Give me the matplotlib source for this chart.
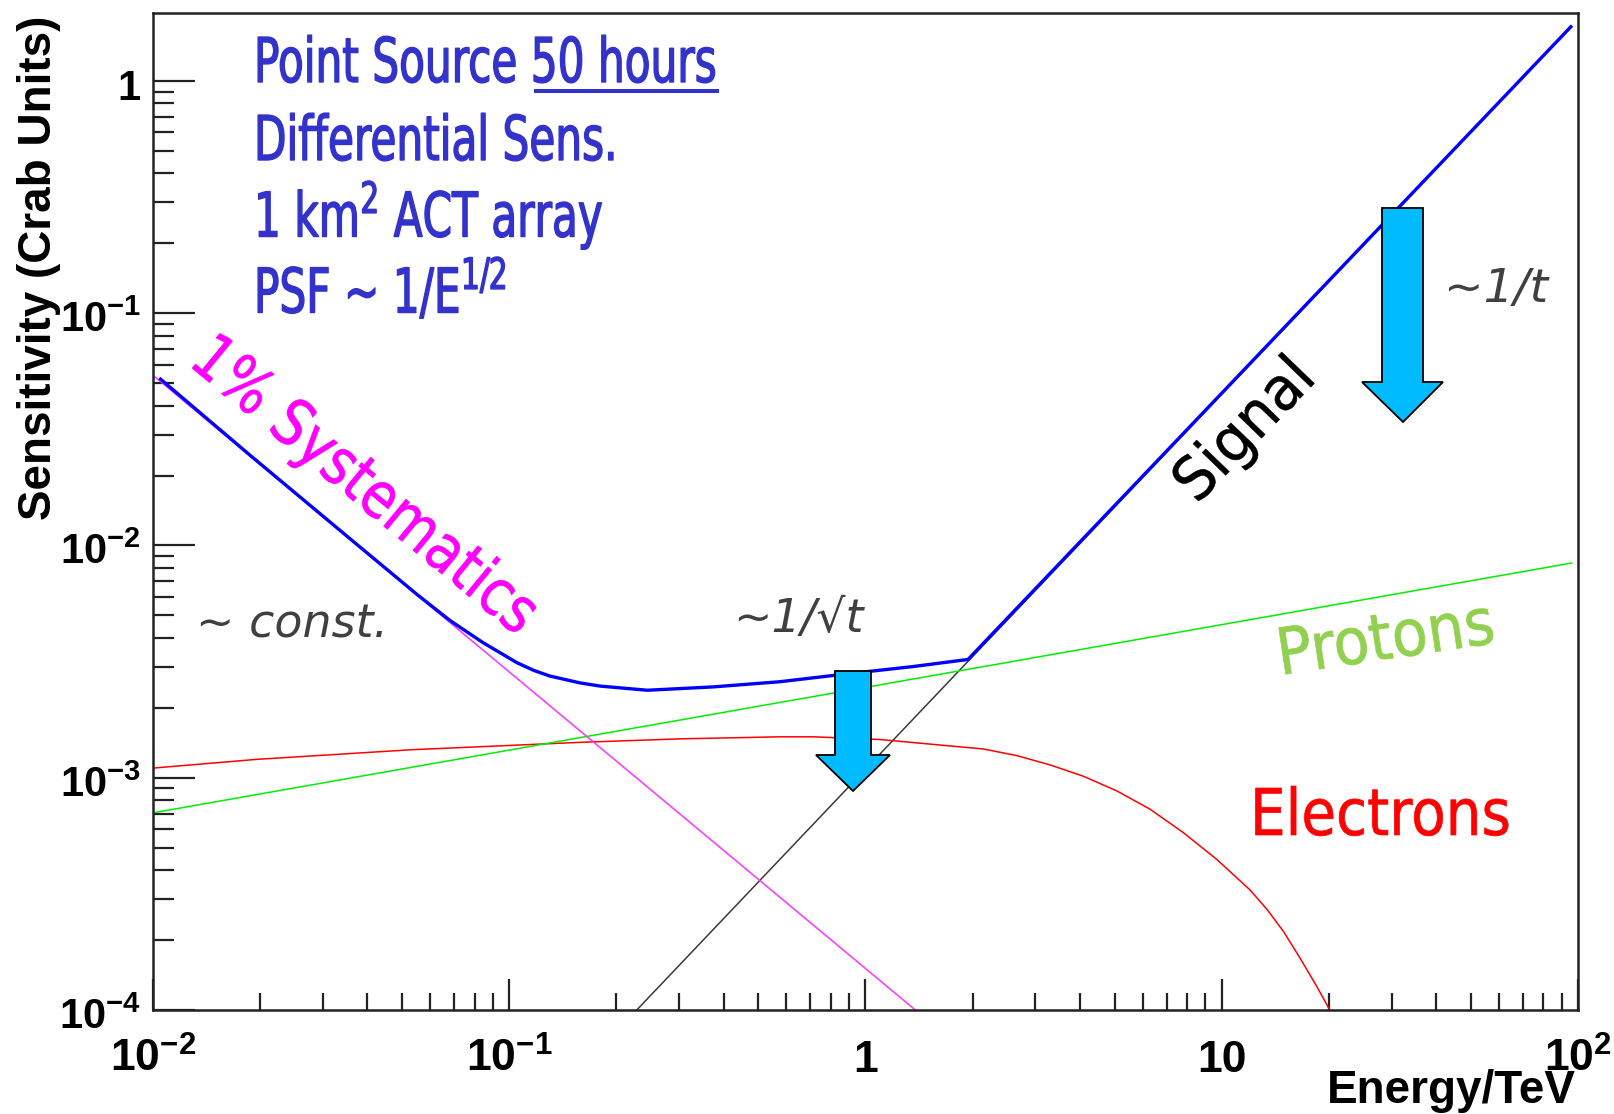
import numpy as np
import matplotlib
matplotlib.use("Agg")
import matplotlib.pyplot as plt
from matplotlib.patches import Polygon
from matplotlib.lines import Line2D
from matplotlib.patheffects import AbstractPathEffect
from matplotlib.transforms import Affine2D, offset_copy
from matplotlib.ticker import FixedLocator, LogLocator, NullFormatter

# ---- sensitivity curves (Crab units) versus energy (TeV) ----
total_energy = [0.0105, 0.0187, 0.0357, 0.0551, 0.0682, 0.0843, 0.105, 0.117, 0.130,
                0.158, 0.180, 0.244, 0.373, 0.575, 0.887, 1.36, 1.94, 95.5]
total_sens = [0.0520, 0.0245, 0.0107, 6.15e-3, 4.75e-3, 3.82e-3, 3.13e-3, 2.90e-3, 2.74e-3,
              2.56e-3, 2.48e-3, 2.38e-3, 2.46e-3, 2.59e-3, 2.80e-3, 3.01e-3, 3.23e-3, 1.71]

signal_energy = [0.228, 95.5]
signal_sens = [1.0e-4, 1.71]

syst_energy = [0.01, 1.38]
syst_sens = [0.054, 1.0e-4]

proton_energy = [0.01, 96.0]
proton_sens = [7.06e-4, 8.4e-3]

electron_energy = [0.01, 0.0196, 0.0533, 0.158, 0.302, 0.575, 0.714, 1.10, 1.73, 2.14,
                   2.66, 3.30, 4.08, 5.08, 6.30, 7.78, 9.70, 12.0, 13.4, 14.9, 16.6,
                   18.5, 20.1]
electron_sens = [1.10e-3, 1.20e-3, 1.32e-3, 1.42e-3, 1.47e-3, 1.50e-3, 1.50e-3, 1.46e-3,
                 1.37e-3, 1.33e-3, 1.245e-3, 1.135e-3, 1.016e-3, 8.77e-4, 7.31e-4,
                 5.82e-4, 4.44e-4, 3.29e-4, 2.71e-4, 2.18e-4, 1.67e-4, 1.26e-4, 1.0e-4]

xtick_values = [1e-2, 1e-1, 1, 10, 100]
xtick_labels = [r"$\mathregular{10^{-2}}$", r"$\mathregular{10^{-1}}$", "1", "10",
                r"$\mathregular{10^{2}}$"]
ytick_values = [1e-4, 1e-3, 1e-2, 1e-1, 1]
ytick_labels = [r"$\mathregular{10^{-4}}$", r"$\mathregular{10^{-3}}$",
                r"$\mathregular{10^{-2}}$", r"$\mathregular{10^{-1}}$", "1"]


class Squeeze(AbstractPathEffect):
    """Draw text paths narrowed along their baseline, optionally emboldened."""

    def __init__(self, sx, stroke=0.0):
        super().__init__()
        self.sx = sx
        self.stroke = stroke

    def draw_path(self, renderer, gc, tpath, affine, rgbFace=None):
        tr = Affine2D().scale(self.sx, 1.0) + affine
        renderer.draw_path(gc, tpath, tr, rgbFace)
        if self.stroke and rgbFace is not None:
            gc0 = renderer.new_gc()
            gc0.copy_properties(gc)
            gc0.set_linewidth(self.stroke)
            gc0.set_foreground(rgbFace)
            renderer.draw_path(gc0, tpath, tr, None)
            gc0.restore()


W, H, DPI = 1615, 1114, 100
fig = plt.figure(figsize=(W / DPI, H / DPI), dpi=DPI)
fig.patch.set_facecolor("white")


def fx(px):
    return px / W


def fy(py):
    return 1.0 - py / H


ax = fig.add_axes([fx(153), fy(1010), (1578 - 153) / W, (1010 - 13) / H])
ax.set_xscale("log")
ax.set_yscale("log")
ax.set_xlim(0.01, 100)
ax.set_ylim(1e-4, 1.96)

for sp in ax.spines.values():
    sp.set_linewidth(1.8)
    sp.set_color("#222222")

ax.xaxis.set_major_locator(FixedLocator(xtick_values))
ax.yaxis.set_major_locator(FixedLocator(ytick_values))
ax.xaxis.set_minor_locator(LogLocator(base=10, subs=np.arange(2, 10), numticks=50))
ax.yaxis.set_minor_locator(LogLocator(base=10, subs=np.arange(2, 10), numticks=50))
ax.xaxis.set_minor_formatter(NullFormatter())
ax.yaxis.set_minor_formatter(NullFormatter())
ax.tick_params(which="both", direction="in", top=False, right=False,
               labelbottom=False, labelleft=False, width=1.6, color="#222222")
ax.tick_params(axis="y", which="major", length=30)
ax.tick_params(axis="y", which="minor", length=15)
ax.tick_params(axis="x", which="major", length=22)
ax.tick_params(axis="x", which="minor", length=12)

# curves
ax.plot(signal_energy, signal_sens, color="#3a3a3a", lw=1.1, zorder=2)
ax.plot(electron_energy, electron_sens, color="#ff0000", lw=1.1, zorder=2,
        solid_joinstyle="round")
ax.plot(proton_energy, proton_sens, color="#00ee00", lw=1.1, zorder=2)
ax.plot(syst_energy, syst_sens, color="#ff33ff", lw=1.1, zorder=2)
ax.plot(total_energy, total_sens, color="#0000ff", lw=2.4, zorder=3,
        solid_joinstyle="round")

# tick labels
lab_font = dict(family=["Liberation Sans", "DejaVu Sans"], fontweight="bold",
                color="black")
ytr = offset_copy(ax.get_yaxis_transform(), fig=fig, x=-12, y=-19, units="dots")
for v, s in zip(ytick_values, ytick_labels):
    ax.text(0, v, s, transform=ytr, ha="right", va="baseline", fontsize=30,
            clip_on=False, **lab_font)
xtr = offset_copy(ax.get_xaxis_transform(), fig=fig, x=0, y=-62, units="dots")
for v, s in zip(xtick_values, xtick_labels):
    ax.text(v, 0, s, transform=xtr, ha="center", va="baseline", fontsize=32,
            clip_on=False, **lab_font)

fig.text(fx(39), fy(268), "Sensitivity (Crab Units)", rotation=90, ha="center",
         va="center", fontsize=33, **lab_font)
fig.text(fx(1576), fy(1103), "Energy/TeV", ha="right", va="baseline",
         fontsize=33, **lab_font)

# info block
info_kw = dict(color="#3333cc", fontsize=44.4, family=["DejaVu Sans"],
               ha="left", va="baseline", path_effects=[Squeeze(0.685, 1.0)])
fig.text(fx(254), fy(82), "Point Source 50 hours", **info_kw)
fig.add_artist(Line2D([fx(534), fx(719)], [fy(90.5), fy(90.5)],
                      color="#3333cc", lw=2.9, solid_capstyle="butt"))
fig.text(fx(254), fy(160), "Differential Sens.", **info_kw)
fig.text(fx(254), fy(237), r"1 km$^{\mathregular{2}}$ ACT array", **info_kw)
fig.text(fx(254), fy(313), r"PSF ~ 1/E$^{\mathregular{1/2}}$", **info_kw)

# curve labels
fig.text(fx(187), fy(364), "1% Systematics", color="#ff00ff", fontsize=46,
         family=["DejaVu Sans"], rotation=-39.5, rotation_mode="anchor",
         ha="left", va="baseline", path_effects=[Squeeze(0.84, 0.5)])
fig.text(fx(1197), fy(505), "Signal", color="black", fontsize=43,
         family=["DejaVu Sans"], rotation=46, rotation_mode="anchor",
         ha="left", va="baseline", path_effects=[Squeeze(0.95, 0.4)])
fig.text(fx(1280), fy(675), "Protons", color="#92d050", fontsize=46.4,
         family=["DejaVu Sans"], rotation=8.5, rotation_mode="anchor",
         ha="left", va="baseline", path_effects=[Squeeze(0.91, 0.5)])
fig.text(fx(1250), fy(835), "Electrons", color="#ff0000", fontsize=46.4,
         family=["DejaVu Sans"], ha="left", va="baseline",
         path_effects=[Squeeze(0.876, 0.5)])

note_kw = dict(color="#404040", family=["DejaVu Sans"], style="italic",
               ha="left", va="baseline")
fig.text(fx(196), fy(637), "~ const.", fontsize=33, **note_kw)
fig.text(fx(733), fy(632), "~1/\u221at", fontsize=33, **note_kw)
fig.text(fx(1444), fy(302), "~1/t", fontsize=34, **note_kw)

# time-scaling arrows
arrow_px = [
    [(835, 671), (871, 671), (871, 755), (890, 755), (853, 791), (816, 755), (835, 755)],
    [(1382, 208), (1423, 208), (1423, 382), (1443, 382), (1403, 422), (1362, 382), (1382, 382)],
]
for pts in arrow_px:
    verts = [(fx(x), fy(y)) for x, y in pts]
    fig.add_artist(Polygon(verts, closed=True, transform=fig.transFigure,
                           facecolor="#00bbff", edgecolor="black", lw=1.3,
                           zorder=5))

fig.savefig("out.png", dpi=DPI, facecolor="white")
